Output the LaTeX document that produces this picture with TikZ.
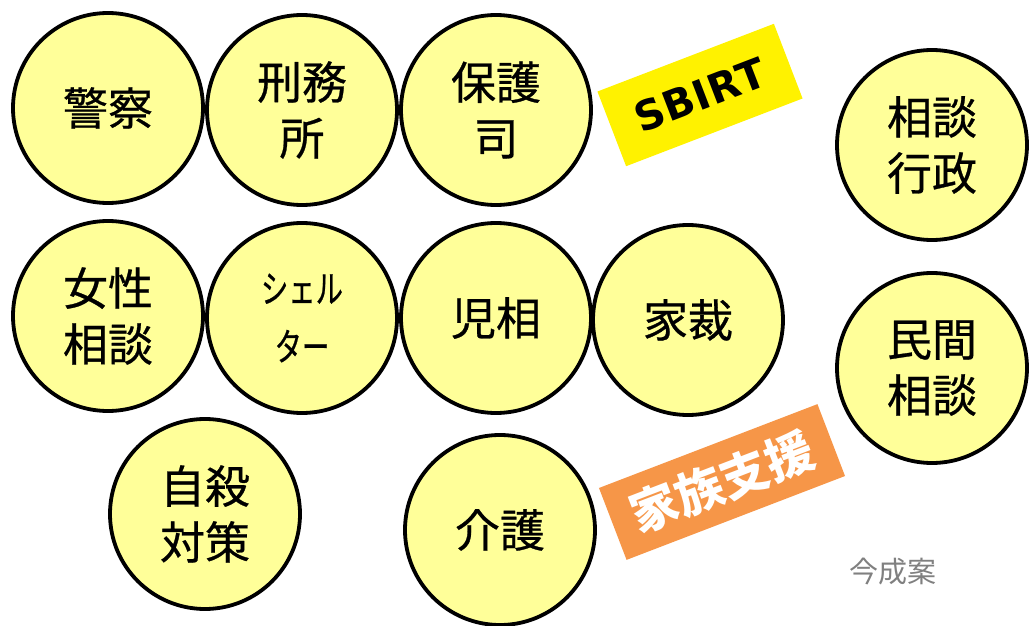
\documentclass[tikz,border=0pt]{standalone}
\usepackage{fontspec}
\newfontfamily\jp[FakeBold=0.6]{Noto Sans CJK JP}
\newfontfamily\jpn[FakeBold=0.6,FakeStretch=0.72]{Noto Sans CJK JP}
\newfontfamily\jpb{Noto Sans CJK JP}
\newfontfamily\sbirtfont[LetterSpace=2]{DejaVu Sans}
\definecolor{cyel}{RGB}{255,255,153}
\definecolor{orng}{RGB}{246,150,72}
\begin{document}
\begin{tikzpicture}[x=1pt,y=-1pt,
  circ/.style={circle, draw=black, line width=3.8pt, fill=cyel, minimum size=190pt, inner sep=0pt,
    font=\jp\fontsize{45}{56}\selectfont, align=center, text=black},
  tag/.style={rotate=21, inner sep=0pt}]
\useasboundingbox (0,0) rectangle (1029,626);
\node[circ] (keisatsu) at (108,108) {警察};
\node[circ] (keimusho) at (302,110) {刑務\\所};
\node[circ] (hogoshi) at (496,110) {保護\\司};
\node[circ] (josei) at (108,316) {女性\\相談};
\node[circ, font=\jpn\fontsize{38}{58}\selectfont] (shelter) at (302,318) {シェル\\ター};
\node[circ] (jisou) at (496,318) {児相};
\node[circ] (kasai) at (688,320) {家裁};
\node[circ] (jisatsu) at (205,514) {自殺\\対策};
\node[circ] (kaigo) at (500,530) {介護};
\node[circ] (soudan) at (932,145) {相談\\行政};
\node[circ] (minkan) at (932,368) {民間\\相談};
\node[tag, fill=yellow, minimum width=189pt, minimum height=80pt] (sbirtbox) at (700,95) {};
\node[tag, font=\sbirtfont\bfseries\fontsize{41}{41}\selectfont] (sbirt) at (sbirtbox.center) {SBIRT};
\node[tag, fill=orng, minimum width=234pt, minimum height=77pt] (kazokubox) at (722,482) {};
\node[tag, text=white, font=\jpb\bfseries\fontsize{48}{48}\selectfont] (kazoku) at (kazokubox.center) {家族支援};
\node[text=black!50, font=\jpb\fontsize{29}{29}\selectfont] (imanari) at (893,572) {今成案};
\end{tikzpicture}
\end{document}
